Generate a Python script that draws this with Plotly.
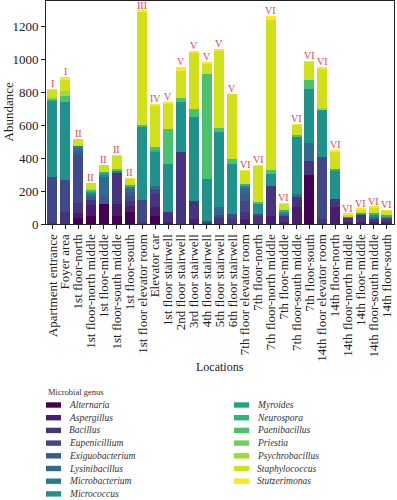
import plotly.graph_objects as go

locations = [
    "Apartment entrance", "Foyer area", "1st floor-north", "1st floor-north middle",
    "1st floor-middle", "1st floor-south middle", "1st floor-south",
    "1st floor elevator room", "Elevator car", "1st floor stairwell",
    "2nd floor stairwell", "3rd floor stairwell", "4th floor stairwell",
    "5th floor stairwell", "6th floor stairwell", "7th floor elevator room",
    "7th floor-north", "7th floor-north middle", "7th floor-middle",
    "7th floor-south middle", "7th floor-south", "14th floor elevator room",
    "14th floor-north", "14th floor-north middle", "14th floor-middle",
    "14th floor-south middle", "14th floor-south",
]
groups = ["I", "I", "II", "II", "II", "II", "II", "III", "IV", "V", "V", "V", "V", "V", "V",
          "VI", "VI", "VI", "VI", "VI", "VI", "VI", "VI", "VI", "VI", "VI", "VI"]

genera = ["Alternaria", "Aspergillus", "Bacillus", "Eupenicillium", "Exiguobacterium",
          "Lysinibacillus", "Microbacterium", "Micrococcus", "Myroides", "Neurospora",
          "Paenibacillus", "Priestia", "Psychrobacillus", "Staphylococcus", "Stutzerimonas"]
genus_colors = ["#440154", "#481c6e", "#463480", "#3f4889", "#375b8d", "#2f6b8e",
                "#277f8e", "#21918c", "#20a486", "#2fb47c", "#4ac16d", "#73d056",
                "#a0da39", "#d0e11c", "#fde725"]

alternaria      = [0, 0, 34, 51, 122, 51, 71, 0, 51, 0, 0, 0, 0, 0, 0, 0, 0, 0, 0, 0, 295, 0, 0, 0, 0, 0, 0]
aspergillus     = [5, 0, 31, 62, 0, 71, 40, 0, 50, 11, 0, 30, 0, 0, 0, 30, 0, 50, 15, 101, 0, 0, 101, 10, 15, 10, 10]
bacillus        = [10, 70, 61, 35, 0, 193, 31, 10, 82, 60, 437, 112, 10, 34, 30, 41, 50, 184, 36, 61, 91, 31, 51, 30, 40, 25, 14]
eupenicillium   = [270, 195, 291, 0, 0, 0, 31, 136, 30, 0, 0, 0, 10, 20, 31, 71, 11, 0, 0, 0, 0, 376, 0, 0, 0, 0, 13]
exiguobacterium = [0, 0, 20, 15, 50, 0, 20, 0, 0, 0, 0, 0, 0, 0, 0, 40, 0, 0, 0, 0, 0, 0, 0, 0, 0, 0, 0]
lysinibacillus  = [0, 0, 21, 15, 113, 0, 21, 0, 21, 0, 0, 0, 0, 50, 0, 42, 0, 0, 10, 21, 108, 0, 0, 0, 0, 10, 0]
microbacterium  = [0, 0, 14, 15, 0, 8, 10, 0, 0, 0, 0, 0, 0, 0, 0, 10, 0, 0, 0, 0, 0, 0, 0, 0, 0, 0, 0]
micrococcus     = [468, 474, 0, 0, 20, 0, 0, 444, 203, 295, 302, 509, 255, 455, 305, 0, 61, 71, 18, 346, 326, 285, 174, 5, 6, 12, 10]
myroides        = [0, 0, 0, 5, 0, 0, 0, 0, 0, 0, 0, 0, 0, 0, 0, 0, 0, 0, 0, 0, 0, 0, 0, 0, 0, 0, 0]
neurospora      = [5, 0, 0, 5, 10, 0, 16, 0, 15, 0, 0, 0, 0, 0, 0, 10, 0, 0, 8, 0, 0, 0, 10, 0, 6, 8, 10]
paenibacillus   = [7, 40, 0, 5, 0, 13, 0, 10, 16, 214, 30, 51, 637, 25, 31, 0, 10, 25, 0, 10, 55, 0, 0, 0, 0, 0, 0]
priestia        = [0, 0, 0, 0, 0, 0, 0, 0, 0, 0, 0, 0, 0, 0, 0, 0, 0, 0, 0, 0, 0, 0, 0, 0, 0, 0, 0]
psychrobacillus = [10, 31, 0, 5, 0, 0, 0, 0, 0, 0, 0, 0, 0, 0, 0, 0, 0, 0, 0, 0, 0, 16, 0, 0, 0, 0, 0]
staphylococcus  = [40, 65, 47, 35, 45, 78, 35, 690, 254, 150, 161, 340, 66, 468, 392, 80, 222, 911, 36, 65, 112, 240, 107, 13, 22, 36, 23]
stutzerimonas   = [5, 16, 0, 0, 0, 3, 2, 6, 8, 9, 24, 10, 5, 10, 0, 3, 4, 25, 3, 4, 4, 4, 10, 3, 3, 3, 3]

series = [alternaria, aspergillus, bacillus, eupenicillium, exiguobacterium, lysinibacillus,
          microbacterium, micrococcus, myroides, neurospora, paenibacillus, priestia,
          psychrobacillus, staphylococcus, stutzerimonas]

SERIF = "Liberation Serif"
W, H = 397, 500
L, R, T, B = 46, 394, 1, 224  # plot area in pixels


def px_x(px):
    return (px - L) / (R - L)


def px_y(py):
    return (B - py) / (B - T)


fig = go.Figure()
for name, vals, col in zip(genera, series, genus_colors):
    fig.add_trace(go.Bar(x=locations, y=vals, name=name, marker_color=col,
                         marker_line_width=0, showlegend=False))

totals = [sum(v[i] for v in series) for i in range(len(locations))]

annotations = []
for loc, tot, g in zip(locations, totals, groups):
    annotations.append(dict(x=loc, y=tot, xref="x", yref="y", text=g, showarrow=False,
                            yanchor="bottom", yshift=-2,
                            font=dict(family=SERIF, size=10, color="#e8424f")))

# axis titles
annotations.append(dict(x=px_x(8), y=0.5, xref="paper", yref="paper", text="Abundance",
                        textangle=-90, showarrow=False, xanchor="center", yanchor="middle",
                        font=dict(family=SERIF, size=13, color="#222")))
annotations.append(dict(x=0.5, y=px_y(367), xref="paper", yref="paper", text="Locations",
                        showarrow=False, xanchor="center", yanchor="middle",
                        font=dict(family=SERIF, size=12, color="#222")))

# manual legend
annotations.append(dict(x=px_x(46), y=px_y(392), xref="paper", yref="paper",
                        text="Microbial genus", showarrow=False, xanchor="left", yanchor="middle",
                        font=dict(family=SERIF, size=8.5, color="#333")))
shapes = []
for i, (name, col) in enumerate(zip(genera, genus_colors)):
    colidx, row = (0, i) if i < 8 else (1, i - 8)
    sx = 46 if colidx == 0 else 234
    cy = 405 + row * 12.7
    shapes.append(dict(type="rect", xref="paper", yref="paper",
                       x0=px_x(sx), x1=px_x(sx + 15), y0=px_y(cy - 2.7), y1=px_y(cy + 2.7),
                       fillcolor=col, line=dict(width=0)))
    annotations.append(dict(x=px_x(sx + 21), y=px_y(cy), xref="paper", yref="paper",
                            text="<i>%s</i>" % name, showarrow=False, xanchor="left",
                            yanchor="middle", font=dict(family=SERIF, size=9.5, color="#333")))

fig.update_layout(
    barmode="stack", bargap=0.22,
    width=W, height=H,
    margin=dict(l=L, r=W - R, t=T, b=H - B, autoexpand=False),
    paper_bgcolor="white", plot_bgcolor="white",
    annotations=annotations, shapes=shapes,
    showlegend=False,
)
fig.update_xaxes(showline=True, linecolor="#222", linewidth=1, mirror=True,
                 tickmode="array", tickvals=locations, ticktext=locations,
                 ticks="outside", ticklen=4, tickcolor="#222", tickangle=-90,
                 tickfont=dict(family=SERIF, size=13, color="#222"), automargin=False)
fig.update_yaxes(range=[0, 1356], showline=True, linecolor="#222", linewidth=1, mirror=True,
                 ticks="outside", ticklen=4, tickcolor="#222", showgrid=False, zeroline=False,
                 tickvals=[0, 200, 400, 600, 800, 1000, 1200],
                 tickfont=dict(family=SERIF, size=13, color="#222"), automargin=False)

fig.write_html("out.html", config={"displayModeBar": False})

# remove the browser's default page margin so the figure sits at the window's corner
with open("out.html", "r", encoding="utf-8") as f:
    html = f.read()
html = html.replace("<head>", "<head><style>html,body{margin:0;padding:0;overflow:hidden;}</style>", 1)
with open("out.html", "w", encoding="utf-8") as f:
    f.write(html)
